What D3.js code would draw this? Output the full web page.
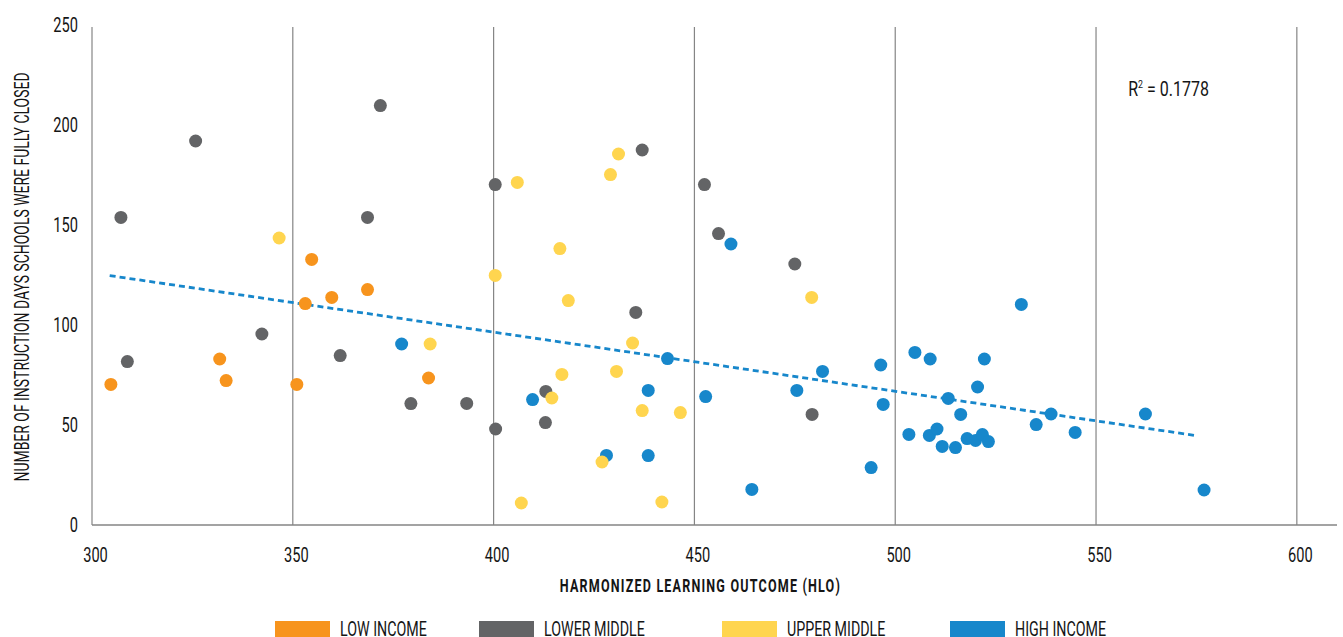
<!DOCTYPE html>
<html>
<head>
<meta charset="utf-8">
<script src="https://cdn.jsdelivr.net/npm/d3@7"></script>
<style>
  body { margin: 0; background: #fff; }
  svg text { font-family: Roboto, "Liberation Sans", sans-serif; fill: #151515; }
</style>
</head>
<body>
<div id="chart"></div>
<script>
// income groups, in legend order
const groups = ['LOW INCOME', 'LOWER MIDDLE', 'UPPER MIDDLE', 'HIGH INCOME'];
const groupColors = ['#f7941d', '#636466', '#ffd54f', '#1787cb'];

// [HLO score, days fully closed] per country
const lowIncome = [
    [304.7, 70.3], [331.8, 83.0], [333.4, 72.2], [351.0, 70.3], [354.7, 132.8],
    [353.1, 110.7], [359.7, 113.8], [368.6, 117.7], [383.8, 73.5]
];
const lowerMiddle = [
    [307.2, 153.8], [325.8, 192.0], [371.8, 209.7], [368.6, 153.8], [308.8, 81.7],
    [342.3, 95.5], [361.8, 84.7], [379.4, 60.7], [393.3, 60.8], [400.5, 48.0],
    [413.0, 66.8], [412.9, 51.2], [435.4, 106.3], [400.4, 170.2], [437.0, 187.5],
    [452.5, 170.2], [456.0, 145.7], [475.0, 130.5], [479.3, 55.3]
];
const highIncome = [
    [377.1, 90.5], [409.7, 62.7], [428.1, 34.8], [438.5, 67.3], [438.5, 34.7],
    [443.3, 83.2], [452.8, 64.2], [464.3, 17.8], [459.1, 140.5], [475.5, 67.3],
    [481.9, 76.8], [494.0, 28.7], [496.4, 80.0], [497.0, 60.3], [504.9, 86.3],
    [508.7, 83.0], [522.2, 83.0], [520.5, 69.0], [513.2, 63.3], [516.3, 55.3],
    [503.4, 45.3], [508.5, 44.8], [510.4, 48.0], [511.7, 39.3], [515.0, 38.7],
    [517.9, 43.2], [520.0, 42.3], [521.7, 45.2], [523.2, 41.7], [531.4, 110.3],
    [535.1, 50.2], [538.8, 55.5], [544.8, 46.3], [562.3, 55.5], [576.9, 17.5]
];
const upperMiddle = [
    [346.6, 143.5], [384.2, 90.5], [405.9, 171.3], [431.1, 185.5], [429.1, 175.2],
    [416.5, 138.2], [400.4, 124.8], [418.6, 112.2], [479.2, 113.8], [434.6, 91.0],
    [417.0, 75.3], [430.6, 76.8], [414.5, 63.5], [437.0, 57.2], [446.5, 56.2],
    [427.0, 31.5], [406.9, 11.0], [441.9, 11.5]
];

// linear trend, start and end of the fitted line
const trendX = [304.4, 574.6];
const trendY = [124.7, 44.8];
const rSquared = '0.1778';

const xTicks = [300, 350, 400, 450, 500, 550, 600];
const yTicks = [0, 50, 100, 150, 200, 250];

const xTitle = 'HARMONIZED LEARNING OUTCOME (HLO)';
const yTitle = 'NUMBER OF INSTRUCTION DAYS SCHOOLS WERE FULLY CLOSED';

// no condensed face installed, so squeeze the glyphs horizontally
function condense($text, k) {
    $text.each(function () {
        const len = this.getComputedTextLength();
        d3.select(this)
            .attr('textLength', len * k)
            .attr('lengthAdjust', 'spacingAndGlyphs');
    });
}

const Chart = {
    init() {
        // dimensions
        const WIDTH = 1343;
        const HEIGHT = 637;
        const MARGIN_TOP = 25;
        const MARGIN_LEFT = 92;
        const MARGIN_RIGHT = 6;
        const MARGIN_BOTTOM = 112;
        const width = WIDTH - MARGIN_LEFT - MARGIN_RIGHT;
        const height = HEIGHT - MARGIN_TOP - MARGIN_BOTTOM;
        const SQUEEZE = 0.73;

        const $svg = d3.select('#chart').append('svg')
            .attr('width', WIDTH)
            .attr('height', HEIGHT);

        const $g = $svg.append('g')
            .attr('transform', `translate(${MARGIN_LEFT}, ${MARGIN_TOP})`);

        // scales
        const xScale = d3.scaleLinear().domain([300, 610]).range([0, width]);
        const yScale = d3.scaleLinear().domain([0, 250]).range([height, 0]);

        // vertical grid lines (the one at 300 doubles as the y axis)
        $g.append('g').attr('class', 'grid')
            .selectAll('line')
            .data(xTicks)
            .join('line')
            .attr('x1', d => xScale(d))
            .attr('x2', d => xScale(d))
            .attr('y1', yScale(250) + 2)
            .attr('y2', yScale(0))
            .attr('stroke', '#858585')
            .attr('stroke-width', 1.2);

        // baseline
        $g.append('line')
            .attr('x1', xScale(300))
            .attr('x2', xScale(610))
            .attr('y1', yScale(0))
            .attr('y2', yScale(0))
            .attr('stroke', '#858585')
            .attr('stroke-width', 1.5);

        // axes, labels only
        const xAxis = d3.axisBottom(xScale).tickValues(xTicks).tickSize(0).tickPadding(23);
        const yAxis = d3.axisLeft(yScale).tickValues(yTicks).tickSize(0).tickPadding(14);

        const $xAxis = $g.append('g')
            .attr('class', 'x axis')
            .attr('transform', `translate(0, ${height})`)
            .call(xAxis);
        const $yAxis = $g.append('g')
            .attr('class', 'y axis')
            .call(yAxis);

        [$xAxis, $yAxis].forEach($a => {
            $a.select('.domain').remove();
            $a.selectAll('text')
                .attr('fill', '#151515')
                .style('font-family', 'Roboto, sans-serif')
                .style('font-size', '20px')
                .call(condense, SQUEEZE);
        });
        $xAxis.selectAll('text').attr('dx', 3);

        // trend line
        $g.append('line')
            .attr('x1', xScale(trendX[0]))
            .attr('x2', xScale(trendX[1]))
            .attr('y1', yScale(trendY[0]))
            .attr('y2', yScale(trendY[1]))
            .attr('stroke', '#1787cb')
            .attr('stroke-width', 2.8)
            .attr('stroke-dasharray', '6 4');

        // dots, yellow drawn last as in the original
        const series = [
            { values: lowIncome, color: groupColors[0] },
            { values: lowerMiddle, color: groupColors[1] },
            { values: highIncome, color: groupColors[3] },
            { values: upperMiddle, color: groupColors[2] }
        ];
        const $vis = $g.append('g').attr('class', 'g-vis');
        series.forEach(s => {
            $vis.append('g')
                .selectAll('circle')
                .data(s.values)
                .join('circle')
                .attr('cx', d => xScale(d[0]))
                .attr('cy', d => yScale(d[1]))
                .attr('r', 6.5)
                .attr('fill', s.color);
        });

        // R squared note (tspans, so squeezed with a transform)
        const $r2 = $g.append('text')
            .attr('transform', `translate(${xScale(558)}, ${yScale(214.5)}) scale(0.8, 1)`)
            .style('font-size', '20px');
        $r2.append('tspan').text('R');
        $r2.append('tspan').attr('dy', -8).style('font-size', '11px').text('2');
        $r2.append('tspan').attr('dy', 8).text(` = ${rSquared}`);

        // axis titles
        $svg.append('text')
            .attr('x', MARGIN_LEFT + xScale(451.5))
            .attr('y', 592)
            .attr('text-anchor', 'middle')
            .style('font-size', '19px')
            .style('font-weight', 'bold')
            .style('letter-spacing', '1.8px')
            .text(xTitle)
            .call(condense, 0.66);

        $svg.append('text')
            .attr('transform', `translate(29, ${MARGIN_TOP + yScale(124)}) rotate(-90)`)
            .attr('text-anchor', 'middle')
            .style('font-size', '19.5px')
            .text(yTitle)
            .call(condense, 0.715);

        // legend
        const legendX = [275, 479, 722, 950];
        const $legend = $svg.append('g').attr('class', 'legend')
            .selectAll('g')
            .data(groups)
            .join('g')
            .attr('transform', (d, i) => `translate(${legendX[i]}, 621)`);
        $legend.append('rect')
            .attr('width', 55)
            .attr('height', 18)
            .attr('fill', (d, i) => groupColors[i]);
        $legend.append('text')
            .attr('x', 65)
            .attr('y', 15)
            .style('font-size', '19.5px')
            .text(d => d)
            .call(condense, SQUEEZE);

        return Chart;
    }
};

Chart.init();
</script>
</body>
</html>
